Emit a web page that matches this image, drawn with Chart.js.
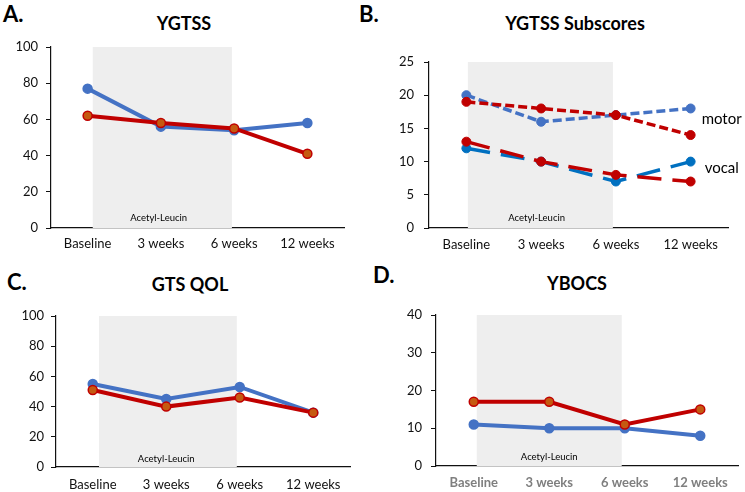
<!DOCTYPE html>
<html><head><meta charset="utf-8">
<script src="https://cdn.jsdelivr.net/npm/chart.js@4.4.1/dist/chart.umd.min.js"></script>
<style>
body{margin:0;width:745px;height:492px;overflow:hidden;background:#fff;font-family:Lato,"Open Sans",sans-serif;}
canvas{position:absolute;}
.lt{position:absolute;font-weight:bold;font-size:22px;color:#000;line-height:1;}
.tt{position:absolute;font-weight:bold;font-size:18px;color:#000;transform:translate(-50%,-50%);white-space:nowrap;line-height:1;}
</style></head>
<body>
<div class="lt" style="left:3px;top:3px">A.</div>
<div class="lt" style="left:359px;top:3px">B.</div>
<div class="lt" style="left:7px;top:271px">C.</div>
<div class="lt" style="left:373px;top:264px">D.</div>
<div class="tt" style="left:184px;top:23px">YGTSS</div>
<div class="tt" style="left:575px;top:23px">YGTSS Subscores</div>
<div class="tt" style="left:190px;top:284px">GTS QOL</div>
<div class="tt" style="left:577px;top:283px">YBOCS</div>
<canvas id="cA" width="372" height="255" style="left:0;top:0"></canvas>
<canvas id="cB" width="373" height="255" style="left:372px;top:0"></canvas>
<canvas id="cC" width="372" height="232" style="left:0;top:260px"></canvas>
<canvas id="cD" width="373" height="232" style="left:372px;top:260px"></canvas>
<script>
// ---- data ----
const categories = ['Baseline', '3 weeks', '6 weeks', '12 weeks'];
const ygtssBlue = [77, 56, 54, 58];
const ygtssRed = [62, 58, 55, 41];
const motorBlue = [20, 16, 17, 18];
const motorRed = [19, 18, 17, 14];
const vocalBlue = [12, 10, 7, 10];
const vocalRed = [13, 10, 8, 7];
const qolBlue = [55, 45, 53, 36];
const qolRed = [51, 40, 46, 36];
const ybocsBlue = [11, 10, 10, 8];
const ybocsRed = [17, 17, 11, 15];
const ticksA = [0, 20, 40, 60, 80, 100];
const ticksB = [0, 5, 10, 15, 20, 25];
const ticksC = [0, 20, 40, 60, 80, 100];
const ticksD = [0, 10, 20, 30, 40];
const shadeLabel = 'Acetyl-Leucin';
const subscoreLabels = ['motor', 'vocal'];

const FONT = 'Lato, "Open Sans", sans-serif';
const BLUE = '#4472C4', BLUE2 = '#0070C0', RED = '#C00000', ORANGE = '#C55A11';

function solidSet(data, color, fill) {
  return {data, borderColor: color, backgroundColor: fill || color, pointBackgroundColor: fill || color,
    pointBorderColor: color, borderWidth: 4, pointRadius: 4.5, pointBorderWidth: 1.5, tension: 0};
}
function dashSet(data, color, dash) {
  return {data, borderColor: color, backgroundColor: color, pointBackgroundColor: color,
    pointBorderColor: color, borderWidth: 3.5, borderDash: dash, pointRadius: 4.5, pointBorderWidth: 1, tension: 0};
}

const shadePlugin = {
  id: 'shade',
  beforeDatasetsDraw(chart, args, o) {
    const {ctx, chartArea: a, scales: {x}} = chart;
    const x0 = x.getPixelForValue(o.from), x1 = x.getPixelForValue(o.to);
    ctx.save();
    ctx.fillStyle = '#EEEEEE';
    ctx.fillRect(x0, a.top, x1 - x0, a.bottom - a.top);
    ctx.fillStyle = '#000';
    ctx.font = '9.5px ' + FONT;
    ctx.textAlign = 'center';
    ctx.textBaseline = 'middle';
    ctx.fillText(shadeLabel, x.getPixelForValue(o.textAt), a.bottom - o.textUp);
    ctx.restore();
  }
};

const sideLabelPlugin = {
  id: 'sideLabels',
  afterDraw(chart, args, o) {
    if (!o.items) return;
    const {ctx, scales: {x, y}} = chart;
    ctx.save();
    ctx.fillStyle = '#000';
    ctx.font = '15px ' + FONT;
    ctx.textAlign = 'left';
    ctx.textBaseline = 'middle';
    o.items.forEach(it => ctx.fillText(it.text, x.getPixelForValue(it.cat) + it.dx, y.getPixelForValue(it.val)));
    ctx.restore();
  }
};

function makeChart(id, c) {
  const el = document.getElementById(id);
  const W = el.width, H = el.height;
  return new Chart(el, {
    type: 'line',
    data: {labels: categories, datasets: c.datasets},
    plugins: [shadePlugin, sideLabelPlugin],
    options: {
      responsive: false, animation: false, devicePixelRatio: 1,
      layout: {padding: {left: 0, right: W - c.r, top: c.t, bottom: 0}},
      plugins: {
        legend: {display: false}, tooltip: {enabled: false}, title: {display: false},
        shade: {from: c.shade[0], to: c.shade[1], textAt: c.textAt, textUp: c.textUp},
        sideLabels: {items: c.side}
      },
      scales: {
        x: {
          offset: true,
          grid: {display: false, drawTicks: false},
          border: {display: true, color: '#111', width: 1.2},
          ticks: {color: c.xColor || '#111', padding: c.xPad, font: {family: FONT, size: 13, weight: c.xBold ? 'bold' : 'normal'}},
          afterFit: s => { s.height = H - c.b; }
        },
        y: {
          min: 0, max: c.ticks[c.ticks.length - 1],
          afterBuildTicks: s => { s.ticks = c.ticks.map(v => ({value: v})); },
          grid: {display: true, drawOnChartArea: false, drawTicks: true, tickLength: 5, color: '#111'},
          border: {display: true, color: '#111', width: 1.2},
          ticks: {color: '#111', padding: c.yPad, font: {family: FONT, size: 13}},
          afterFit: s => { s.width = c.l; }
        }
      }
    }
  });
}

makeChart('cA', {
  datasets: [solidSet(ygtssRed, RED, ORANGE), solidSet(ygtssBlue, BLUE)],
  ticks: ticksA, l: 51, r: 344, t: 47, b: 228, yPad: 8, xPad: 8,
  shade: [0.07, 1.97], textAt: 0.97, textUp: 10
});
makeChart('cB', {
  datasets: [dashSet(vocalRed, RED, [24, 11]), dashSet(motorRed, RED, [9, 4]),
             dashSet(vocalBlue, BLUE2, [24, 11]), dashSet(motorBlue, BLUE, [9, 4])],
  ticks: ticksB, l: 57, r: 356, t: 62, b: 228, yPad: 10, xPad: 9,
  shade: [0.02, 1.96], textAt: 0.94, textUp: 10,
  side: [{text: subscoreLabels[0], cat: 3, dx: 11, val: 16.4}, {text: subscoreLabels[1], cat: 3, dx: 14, val: 9.0}]
});
makeChart('cC', {
  datasets: [solidSet(qolRed, RED, ORANGE), solidSet(qolBlue, BLUE)],
  ticks: ticksC, l: 56, r: 350, t: 56, b: 207, yPad: 7, xPad: 10,
  shade: [0.085, 1.96], textAt: 1.0, textUp: 8
});
makeChart('cD', {
  datasets: [solidSet(ybocsRed, RED, ORANGE), solidSet(ybocsBlue, BLUE)],
  ticks: ticksD, l: 64, r: 366, t: 55, b: 206, yPad: 9, xPad: 9, xColor: '#7F7F7F', xBold: true,
  shade: [0.04, 1.96], textAt: 1.0, textUp: 9
});
</script>
</body></html>
